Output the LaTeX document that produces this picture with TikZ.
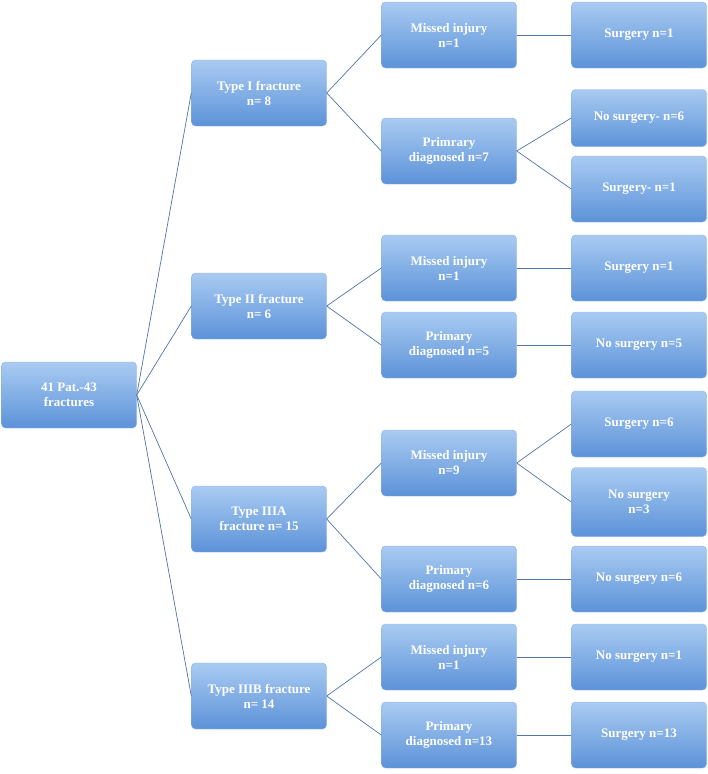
\documentclass[tikz,border=0pt]{standalone}
\usepackage{fontspec}
\setmainfont{Liberation Serif}
\usetikzlibrary{positioning}
\definecolor{boxtop}{HTML}{A9CBF2}
\definecolor{boxbot}{HTML}{5C92D8}
\definecolor{edge}{HTML}{4F74A8}
\begin{document}
\begin{tikzpicture}[x=1pt,y=-1pt,
	box/.style={rectangle,rounded corners=4pt,top color=boxtop,bottom color=boxbot,draw=boxbot!70!white,
		minimum width=135pt,minimum height=66pt,align=center,text=white,font=\fontsize{13}{15}\selectfont\bfseries},
	link/.style={draw=edge,line width=0.7pt}]
	\useasboundingbox (0,0) rectangle (708,774);
	\node[box] at (69,395) (root) {41 Pat.-43\\fractures};
	\node[box] at (259,93) (t1) {Type I fracture\\n= 8};
	\node[box] at (259,306) (t2) {Type II fracture\\n= 6};
	\node[box] at (259,519) (t3) {Type IIIA\\fracture n= 15};
	\node[box] at (259,696) (t4) {Type IIIB fracture\\n= 14};
	\node[box] at (449,35) (m1) {Missed injury\\n=1};
	\node[box] at (449,151) (p1) {Primrary\\diagnosed n=7};
	\node[box] at (449,268) (m2) {Missed injury\\n=1};
	\node[box] at (449,345) (p2) {Primary\\diagnosed n=5};
	\node[box] at (449,463) (m3) {Missed injury\\n=9};
	\node[box] at (449,579) (p3) {Primary\\diagnosed n=6};
	\node[box] at (449,657) (m4) {Missed injury\\n=1};
	\node[box] at (449,735) (p4) {Primary\\diagnosed n=13};
	\node[box] at (639,35) (s1) {Surgery n=1};
	\node[box,minimum height=57pt] at (639,118) (s2) {No surgery- n=6};
	\node[box] at (639,189) (s3) {Surgery- n=1};
	\node[box] at (639,268) (s4) {Surgery n=1};
	\node[box] at (639,345) (s5) {No surgery n=5};
	\node[box] at (639,424) (s6) {Surgery n=6};
	\node[box,minimum height=69pt] at (639,502) (s7) {No surgery\\n=3};
	\node[box] at (639,579) (s8) {No surgery n=6};
	\node[box] at (639,657) (s9) {No surgery n=1};
	\node[box] at (639,735) (s10) {Surgery n=13};
	\foreach \t in {t1,t2,t3,t4}
		\draw[link] (root.east) -- (\t.west);
	\draw[link] (t1.east) -- (m1.west);
	\draw[link] (t1.east) -- (p1.west);
	\draw[link] (t2.east) -- (m2.west);
	\draw[link] (t2.east) -- (p2.west);
	\draw[link] (t3.east) -- (m3.west);
	\draw[link] (t3.east) -- (p3.west);
	\draw[link] (t4.east) -- (m4.west);
	\draw[link] (t4.east) -- (p4.west);
	\draw[link] (m1.east) -- (s1.west);
	\draw[link] (p1.east) -- (s2.west);
	\draw[link] (p1.east) -- (s3.west);
	\draw[link] (m2.east) -- (s4.west);
	\draw[link] (p2.east) -- (s5.west);
	\draw[link] (m3.east) -- (s6.west);
	\draw[link] (m3.east) -- (s7.west);
	\draw[link] (p3.east) -- (s8.west);
	\draw[link] (m4.east) -- (s9.west);
	\draw[link] (p4.east) -- (s10.west);
\end{tikzpicture}
\end{document}
